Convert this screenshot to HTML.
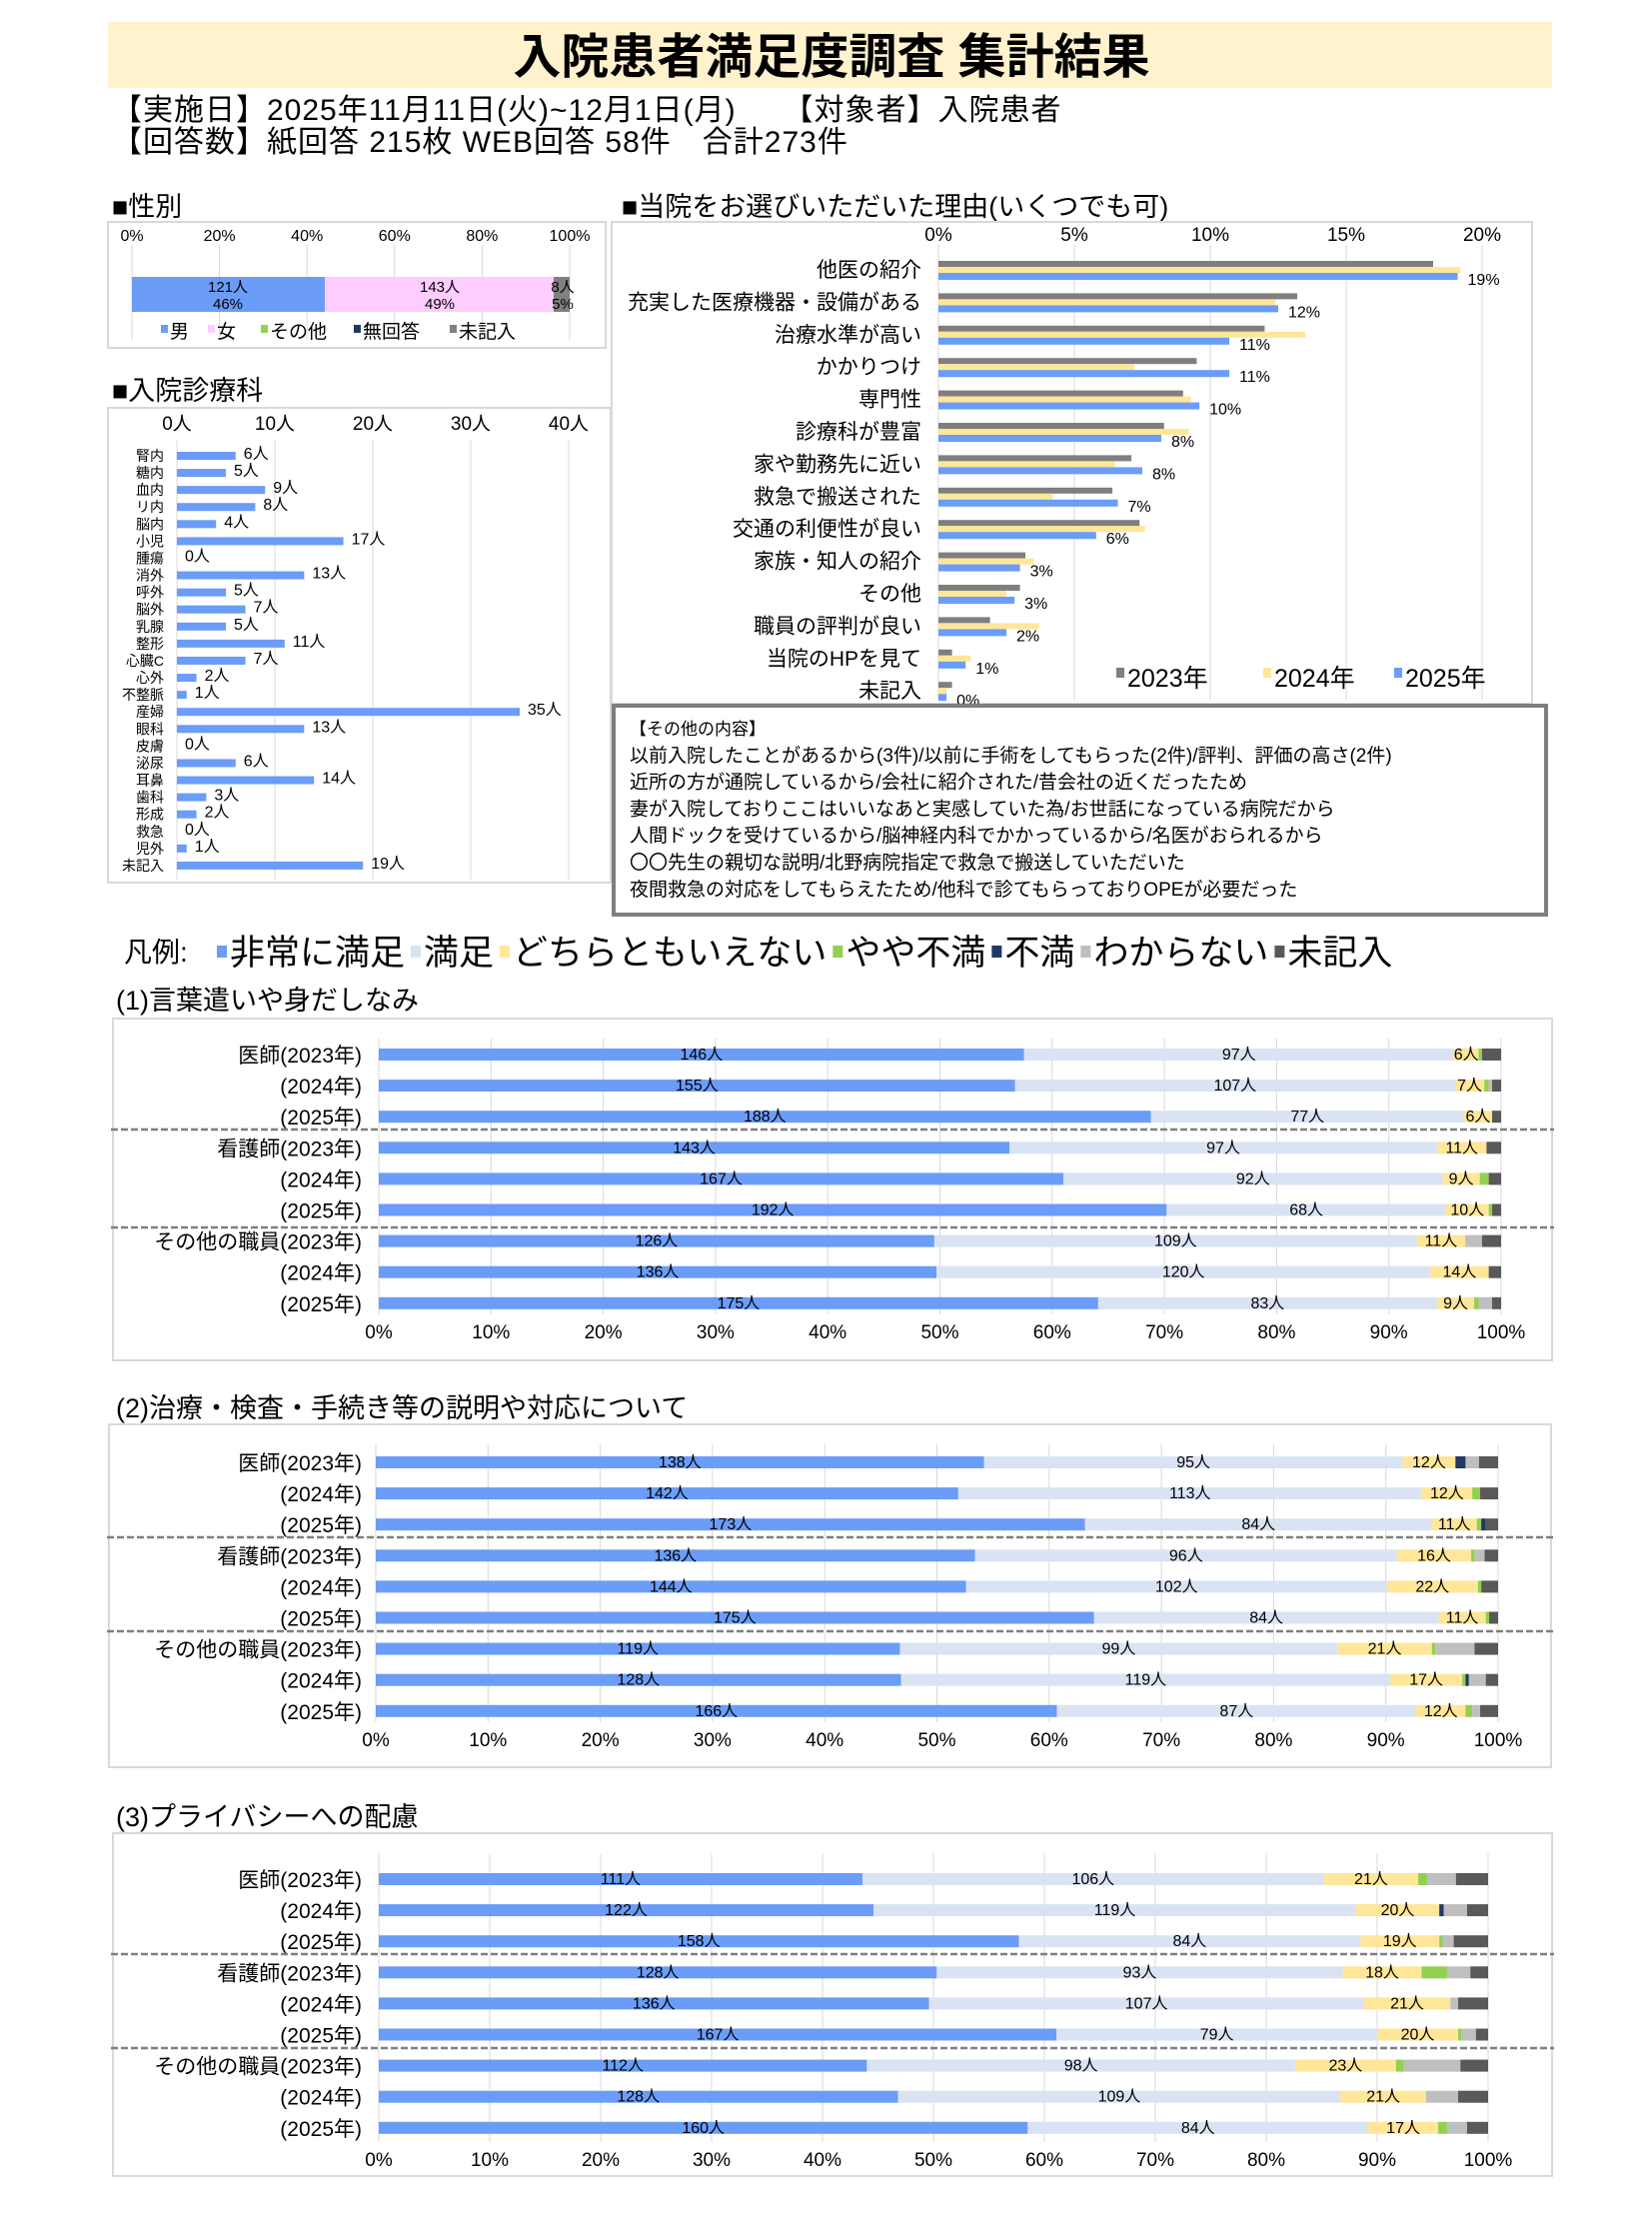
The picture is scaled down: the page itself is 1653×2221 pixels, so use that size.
<!DOCTYPE html>
<html><head><meta charset="utf-8">
<style>
html,body{margin:0;padding:0;background:#fff;}
svg{display:block;font-family:"Liberation Sans","Noto Sans CJK JP",sans-serif;}
</style></head>
<body>
<svg id="s" xmlns="http://www.w3.org/2000/svg" width="1653" height="2221" viewBox="0 0 1653 2221">
<rect x="108" y="22" width="1445" height="66" fill="#fff2cc"/>
<text x="832" y="73" font-size="48" font-weight="bold" text-anchor="middle" fill="#000">入院患者満足度調査 集計結果</text>
<text x="112" y="120" font-size="30" letter-spacing="1">【実施日】2025年11月11日(火)~12月1日(月)　　【対象者】入院患者</text>
<text x="112" y="152" font-size="30" letter-spacing="1">【回答数】紙回答 215枚 WEB回答 58件　合計273件</text>
<text x="112" y="216" font-size="27">■性別</text>
<text x="112" y="400" font-size="27">■入院診療科</text>
<text x="622" y="216" font-size="27">■当院をお選びいただいた理由(いくつでも可)</text>
<g id="g"></g>
</svg>
<script>
const NS="http://www.w3.org/2000/svg",G=document.getElementById('g');
function el(t,a,txt){const e=document.createElementNS(NS,t);for(const k in a)e.setAttribute(k,a[k]);if(txt!==undefined)e.textContent=txt;G.appendChild(e);return e;}
function R(x,y,w,h,f){return el('rect',{x,y,width:Math.max(0,w),height:h,fill:f});}
function T(x,y,s,fs,anc,fill){return el('text',{x,y,'font-size':fs,'text-anchor':anc||'start',fill:fill||'#000'},s);}
function L(x1,y1,x2,y2,c,w,d){const a={x1,y1,x2,y2,stroke:c,'stroke-width':w||1};if(d)a['stroke-dasharray']=d;return el('line',a);}
function box(x,y,w,h,c,sw){el('rect',{x,y,width:w,height:h,fill:'none',stroke:c||'#d9d9d9','stroke-width':sw||2});}
const BL='#6b9cf7',LB='#dae3f3',YE='#ffe699',GR='#92d050',NV='#203864',GY='#bfbfbf',DK='#595959';

// gender
box(108,222,498,126);
for(let i=0;i<=5;i++){const x=132+i*87.6;L(x,245,x,340,'#d9d9d9');T(x,241,(i*20)+'%',16,'middle');}
R(132,277,193,35,BL);R(325,277,229,35,'#ffccff');R(554,277,16,35,'#808080');
T(228,292,'121人',15,'middle');T(228,309,'46%',15,'middle');
T(440,292,'143人',15,'middle');T(440,309,'49%',15,'middle');
T(563,292,'8人',15,'middle');T(563,309,'5%',15,'middle');
[['男',170,BL],['女',217,'#ffccff'],['その他',270,GR],['無回答',363,NV],['未記入',459,'#808080']].forEach(([t,x,c])=>{R(x-9,325,7,8,c);T(x,338,t,19);});

// dept
box(108,408,503,475);
for(let i=0;i<=4;i++){const x=177+i*98;L(x,440,x,880,'#d9d9d9');T(x,430,(i*10)+'人',19,'middle');}
const dn=[['腎内',6],['糖内',5],['血内',9],['リ内',8],['脳内',4],['小児',17],['腫瘍',0],['消外',13],['呼外',5],['脳外',7],['乳腺',5],['整形',11],['心臓C',7],['心外',2],['不整脈',1],['産婦',35],['眼科',13],['皮膚',0],['泌尿',6],['耳鼻',14],['歯科',3],['形成',2],['救急',0],['児外',1],['未記入',19]];
dn.forEach(([n,v],i)=>{const y=456+i*17.08;T(164,y+5,n,14,'end');R(177,y-4,v*9.8,8,BL);T(177+v*9.8+8,y+3,v+'人',16);});

// reasons
box(612,222,921,482);
const rx0=939,rs=27.2;
for(let i=0;i<=4;i++){const x=rx0+i*136;L(x,245,x,700,'#d9d9d9');T(x,241,(i*5)+'%',19,'middle');}
const rn=[['他医の紹介',18.2,19.2,19.1,'19%'],['充実した医療機器・設備がある',13.2,12.4,12.5,'12%'],['治療水準が高い',12.0,13.5,10.7,'11%'],['かかりつけ',9.5,7.2,10.7,'11%'],['専門性',9.0,9.3,9.6,'10%'],['診療科が豊富',8.3,9.2,8.2,'8%'],['家や勤務先に近い',7.1,6.5,7.5,'8%'],['救急で搬送された',6.4,4.2,6.6,'7%'],['交通の利便性が良い',7.4,7.6,5.8,'6%'],['家族・知人の紹介',3.2,3.5,3.0,'3%'],['その他',3.0,2.5,2.8,'3%'],['職員の評判が良い',1.9,3.7,2.5,'2%'],['当院のHPを見て',0.5,1.2,1.0,'1%'],['未記入',0.5,0.3,0.3,'0%']];
rn.forEach(([n,a,b,c,p],i)=>{const y=270+i*32.4;T(922,y+7,n,21,'end');R(rx0,y-9,a*rs,6,'#7f7f7f');R(rx0,y-3,b*rs,6,YE);R(rx0,y+3,c*rs,7,BL);T(rx0+c*rs+10,y+15,p,16);});
[['2023年',1128,'#7f7f7f'],['2024年',1275,YE],['2025年',1406,BL]].forEach(([t,x,c])=>{R(x-11,668,8,10,c);T(x,687,t,25);});

// other box
box(614,706,933,209,'#7f7f7f',4);
['【その他の内容】','以前入院したことがあるから(3件)/以前に手術をしてもらった(2件)/評判、評価の高さ(2件)','近所の方が通院しているから/会社に紹介された/昔会社の近くだったため','妻が入院しておりここはいいなあと実感していた為/お世話になっている病院だから','人間ドックを受けているから/脳神経内科でかかっているから/名医がおられるから','〇〇先生の親切な説明/北野病院指定で救急で搬送していただいた','夜間救急の対応をしてもらえたため/他科で診てもらっておりOPEが必要だった'].forEach((t,i)=>T(630,735+i*26.8,t,i?19:17));

// legend
T(124,962,'凡例:',28);
let lx=217;[['非常に満足',BL],['満足',LB],['どちらともいえない',YE],['やや不満',GR],['不満',NV],['わからない',GY],['未記入',DK]].forEach(([t,c])=>{R(lx,946,10,12,c);const e=T(lx+13,965,t,35);lx+=13+e.getComputedTextLength()+6;});

const rowL=['医師(2023年)','(2024年)','(2025年)','看護師(2023年)','(2024年)','(2025年)','その他の職員(2023年)','(2024年)','(2025年)'];
function stack(title,ty,bx,by,bw,bh,x0,x1,y0,axy,dash,data,cnt){
  T(116,ty,title,27);box(bx,by,bw,bh);
  const W=x1-x0;
  for(let i=0;i<=10;i++){const x=x0+W*i/10;L(x,by+20,x,axy-18,'#d9d9d9');T(x,axy+6,(i*10)+'%',19,'middle');}
  const cols=[BL,LB,YE,GR,NV,GY,DK];
  data.forEach((d,i)=>{const y=y0+i*31.1;T(362,y+8,rowL[i],21,'end');
    let prev=0;const b=[...d,100];
    b.forEach((v,j)=>{if(v===null)return;R(x0+W*prev/100,y-6,W*(v-prev)/100,12,cols[j]);prev=v;});
    const c=cnt[i];const mids=[[0,d[0]],[d[0],d[1]],[d[1],d[2]]];
    mids.forEach((m,k)=>{T(x0+W*(m[0]+m[1])/200,y+5,c[k]+'人',16,'middle');});
  });
  dash.forEach(y=>L(bx-2,y,bx+bw+2,y,'#7f7f7f',2.5,'7,3'));
}
stack('(1)言葉遣いや身だしなみ',1010,113,1019,1440,342,379,1502,1055,1333,[1130,1228],
[[57.5,95.8,98.0,98.3,null,null],[56.7,95.9,98.5,98.9,null,99.2],[68.8,96.7,99.2,null,null,null],[56.2,94.3,98.7,null,null,null],[61.0,94.8,98.1,98.9,null,null],[70.2,95.1,98.9,99.2,null,null],[49.5,92.5,96.8,null,null,98.3],[49.7,93.7,98.9,null,null,null],[64.1,94.3,97.6,98.0,null,99.2]],
[[146,97,6],[155,107,7],[188,77,6],[143,97,11],[167,92,9],[192,68,10],[126,109,11],[136,120,14],[175,83,9]]);
stack('(2)治療・検査・手続き等の説明や対応について',1418,109,1425,1443,343,376,1499,1463,1741,[1538,1632],
[[54.2,91.5,96.2,null,97.1,98.3],[51.9,93.2,97.7,98.4,null,null],[63.2,94.1,98.1,98.5,98.9,null],[53.4,91.0,97.6,97.9,null,98.8],[52.6,90.1,98.2,98.5,null,null],[64.0,94.7,98.9,99.2,null,null],[46.7,85.7,94.1,94.4,null,97.9],[46.8,90.4,96.8,97.1,97.4,98.9],[60.7,92.7,97.1,97.7,null,98.4]],
[[138,95,12],[142,113,12],[173,84,11],[136,96,16],[144,102,22],[175,84,11],[119,99,21],[128,119,17],[166,87,12]]);
stack('(3)プライバシーへの配慮',1827,113,1834,1440,343,379,1489,1880,2161,[1955,2049],
[[43.6,85.2,93.7,94.5,null,97.1],[44.6,88.1,95.6,null,96.0,98.1],[57.7,88.5,95.6,95.9,null,96.9],[50.3,86.9,94.0,96.3,null,98.4],[49.6,88.8,96.6,null,null,97.3],[61.1,90.0,97.3,97.6,null,98.9],[44.0,82.6,91.7,92.4,null,97.5],[46.8,86.7,94.4,null,null,97.3],[58.5,89.2,95.5,96.3,null,98.1]],
[[111,106,21],[122,119,20],[158,84,19],[128,93,18],[136,107,21],[167,79,20],[112,98,23],[128,109,21],[160,84,17]]);
</script>
</body></html>
